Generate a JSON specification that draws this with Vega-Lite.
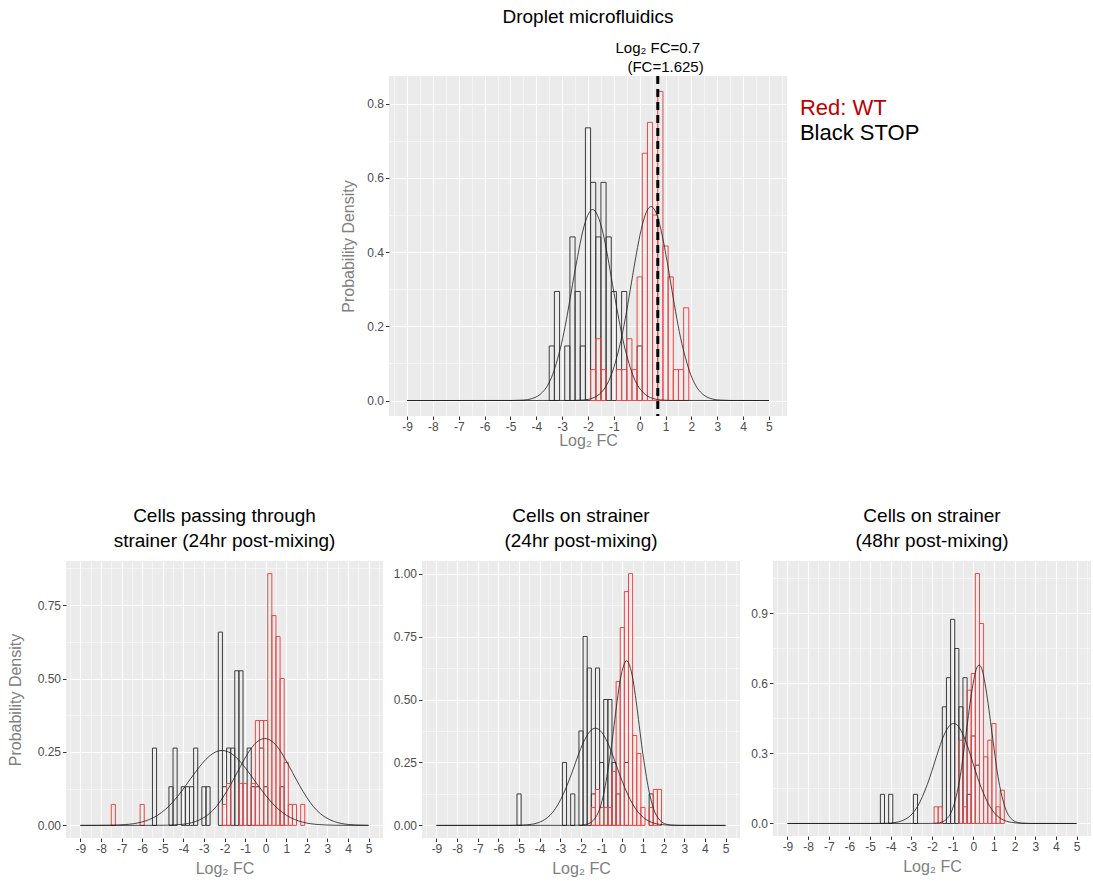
{
  "$schema": "https://vega.github.io/schema/vega-lite/v6.json",
  "background": "white",
  "padding": {"left": 7, "top": 8, "right": 0, "bottom": 0},
  "config": {
    "font": "Liberation Sans",
    "view": {"fill": "#ebebeb", "stroke": null},
    "axis": {"domain": false, "tickColor": "#333333", "tickSize": 3.5, "tickWidth": 1, "labelColor": "#4d4d4d", "labelFontSize": 12, "labelPadding": 2, "titleColor": "#808080", "titleFontSize": 16, "titleFontWeight": "normal", "gridColor": "#ffffff", "labelOverlap": false, "labelFlush": false},
    "title": {"fontSize": 19, "fontWeight": "normal", "color": "black"}
  },
  "datasets": {
    "bars": [
      {"p":"T","g":"S","x0":-3.5,"x1":-3.3,"d":0.1471},{"p":"T","g":"S","x0":-3.3,"x1":-3.1,"d":0.2941},{"p":"T","g":"S","x0":-2.9,"x1":-2.7,"d":0.1471},{"p":"T","g":"S","x0":-2.7,"x1":-2.5,"d":0.4412},{"p":"T","g":"S","x0":-2.5,"x1":-2.3,"d":0.2941},{"p":"T","g":"S","x0":-2.3,"x1":-2.1,"d":0.1471},{"p":"T","g":"S","x0":-2.1,"x1":-1.9,"d":0.7353},{"p":"T","g":"S","x0":-1.9,"x1":-1.7,"d":0.5882},{"p":"T","g":"S","x0":-1.7,"x1":-1.5,"d":0.4412},{"p":"T","g":"S","x0":-1.5,"x1":-1.3,"d":0.5882},{"p":"T","g":"S","x0":-1.3,"x1":-1.1,"d":0.4412},{"p":"T","g":"S","x0":-1.1,"x1":-0.9,"d":0.2941},{"p":"T","g":"S","x0":-0.7,"x1":-0.5,"d":0.2941},{"p":"T","g":"S","x0":-0.1,"x1":0.1,"d":0.1471},
      {"p":"T","g":"W","x0":-1.9,"x1":-1.7,"d":0.0833},{"p":"T","g":"W","x0":-1.7,"x1":-1.5,"d":0.1667},{"p":"T","g":"W","x0":-1.5,"x1":-1.3,"d":0.0833},{"p":"T","g":"W","x0":-0.9,"x1":-0.7,"d":0.0833},{"p":"T","g":"W","x0":-0.7,"x1":-0.5,"d":0.0833},{"p":"T","g":"W","x0":-0.5,"x1":-0.3,"d":0.1667},{"p":"T","g":"W","x0":-0.3,"x1":-0.1,"d":0.0833},{"p":"T","g":"W","x0":-0.1,"x1":0.1,"d":0.3333},{"p":"T","g":"W","x0":0.1,"x1":0.3,"d":0.6667},{"p":"T","g":"W","x0":0.3,"x1":0.5,"d":0.75},{"p":"T","g":"W","x0":0.5,"x1":0.7,"d":0.5},{"p":"T","g":"W","x0":0.7,"x1":0.9,"d":0.8333},{"p":"T","g":"W","x0":0.9,"x1":1.1,"d":0.4167},{"p":"T","g":"W","x0":1.1,"x1":1.3,"d":0.3333},{"p":"T","g":"W","x0":1.3,"x1":1.5,"d":0.0833},{"p":"T","g":"W","x0":1.5,"x1":1.7,"d":0.0833},{"p":"T","g":"W","x0":1.7,"x1":1.9,"d":0.25},
      {"p":"A","g":"S","x0":-5.5,"x1":-5.3,"d":0.2632},{"p":"A","g":"S","x0":-4.7,"x1":-4.5,"d":0.1316},{"p":"A","g":"S","x0":-4.5,"x1":-4.3,"d":0.2632},{"p":"A","g":"S","x0":-4.1,"x1":-3.9,"d":0.1316},{"p":"A","g":"S","x0":-3.9,"x1":-3.7,"d":0.1316},{"p":"A","g":"S","x0":-3.7,"x1":-3.5,"d":0.1316},{"p":"A","g":"S","x0":-3.5,"x1":-3.3,"d":0.2632},{"p":"A","g":"S","x0":-3.1,"x1":-2.9,"d":0.1316},{"p":"A","g":"S","x0":-2.9,"x1":-2.7,"d":0.1316},{"p":"A","g":"S","x0":-2.3,"x1":-2.1,"d":0.6579},{"p":"A","g":"S","x0":-2.1,"x1":-1.9,"d":0.1316},{"p":"A","g":"S","x0":-1.9,"x1":-1.7,"d":0.2632},{"p":"A","g":"S","x0":-1.7,"x1":-1.5,"d":0.2632},{"p":"A","g":"S","x0":-1.5,"x1":-1.3,"d":0.5263},{"p":"A","g":"S","x0":-1.3,"x1":-1.1,"d":0.5263},{"p":"A","g":"S","x0":-0.9,"x1":-0.7,"d":0.2632},{"p":"A","g":"S","x0":-0.7,"x1":-0.5,"d":0.1316},{"p":"A","g":"S","x0":-0.5,"x1":-0.3,"d":0.1316},{"p":"A","g":"S","x0":-0.3,"x1":-0.1,"d":0.2632},{"p":"A","g":"S","x0":-0.1,"x1":0.1,"d":0.1316},{"p":"A","g":"S","x0":0.7,"x1":0.9,"d":0.1316},
      {"p":"A","g":"W","x0":-7.5,"x1":-7.3,"d":0.0714},{"p":"A","g":"W","x0":-6.1,"x1":-5.9,"d":0.0714},{"p":"A","g":"W","x0":-2.1,"x1":-1.9,"d":0.0714},{"p":"A","g":"W","x0":-1.9,"x1":-1.7,"d":0.1429},{"p":"A","g":"W","x0":-1.3,"x1":-1.1,"d":0.1429},{"p":"A","g":"W","x0":-1.1,"x1":-0.9,"d":0.1429},{"p":"A","g":"W","x0":-0.7,"x1":-0.5,"d":0.1429},{"p":"A","g":"W","x0":-0.5,"x1":-0.3,"d":0.3571},{"p":"A","g":"W","x0":-0.3,"x1":-0.1,"d":0.3571},{"p":"A","g":"W","x0":-0.1,"x1":0.1,"d":0.3571},{"p":"A","g":"W","x0":0.1,"x1":0.3,"d":0.8571},{"p":"A","g":"W","x0":0.3,"x1":0.5,"d":0.7143},{"p":"A","g":"W","x0":0.5,"x1":0.7,"d":0.6429},{"p":"A","g":"W","x0":0.7,"x1":0.9,"d":0.5},{"p":"A","g":"W","x0":0.9,"x1":1.1,"d":0.2143},{"p":"A","g":"W","x0":1.1,"x1":1.3,"d":0.0714},{"p":"A","g":"W","x0":1.3,"x1":1.5,"d":0.0714},{"p":"A","g":"W","x0":1.7,"x1":1.9,"d":0.0714},
      {"p":"B","g":"S","x0":-5.1,"x1":-4.9,"d":0.125},{"p":"B","g":"S","x0":-2.9,"x1":-2.7,"d":0.25},{"p":"B","g":"S","x0":-2.5,"x1":-2.3,"d":0.125},{"p":"B","g":"S","x0":-2.1,"x1":-1.9,"d":0.375},{"p":"B","g":"S","x0":-1.9,"x1":-1.7,"d":0.75},{"p":"B","g":"S","x0":-1.7,"x1":-1.5,"d":0.625},{"p":"B","g":"S","x0":-1.5,"x1":-1.3,"d":0.125},{"p":"B","g":"S","x0":-1.3,"x1":-1.1,"d":0.625},{"p":"B","g":"S","x0":-1.1,"x1":-0.9,"d":0.25},{"p":"B","g":"S","x0":-0.9,"x1":-0.7,"d":0.5},{"p":"B","g":"S","x0":-0.7,"x1":-0.5,"d":0.5},{"p":"B","g":"S","x0":-0.5,"x1":-0.3,"d":0.25},{"p":"B","g":"S","x0":-0.3,"x1":-0.1,"d":0.125},{"p":"B","g":"S","x0":0.1,"x1":0.3,"d":0.25},{"p":"B","g":"S","x0":1.3,"x1":1.5,"d":0.125},
      {"p":"B","g":"W","x0":-1.5,"x1":-1.3,"d":0.0714},{"p":"B","g":"W","x0":-1.3,"x1":-1.1,"d":0.1429},{"p":"B","g":"W","x0":-1.1,"x1":-0.9,"d":0.0714},{"p":"B","g":"W","x0":-0.9,"x1":-0.7,"d":0.0714},{"p":"B","g":"W","x0":-0.7,"x1":-0.5,"d":0.0714},{"p":"B","g":"W","x0":-0.5,"x1":-0.3,"d":0.2143},{"p":"B","g":"W","x0":-0.3,"x1":-0.1,"d":0.5714},{"p":"B","g":"W","x0":-0.1,"x1":0.1,"d":0.7857},{"p":"B","g":"W","x0":0.1,"x1":0.3,"d":0.9286},{"p":"B","g":"W","x0":0.3,"x1":0.5,"d":1.0},{"p":"B","g":"W","x0":0.5,"x1":0.7,"d":0.3571},{"p":"B","g":"W","x0":0.7,"x1":0.9,"d":0.2857},{"p":"B","g":"W","x0":0.9,"x1":1.1,"d":0.0714},{"p":"B","g":"W","x0":1.3,"x1":1.5,"d":0.0714},{"p":"B","g":"W","x0":1.5,"x1":1.7,"d":0.1429},{"p":"B","g":"W","x0":1.7,"x1":1.9,"d":0.1429},
      {"p":"C","g":"S","x0":-4.5,"x1":-4.3,"d":0.125},{"p":"C","g":"S","x0":-4.1,"x1":-3.9,"d":0.125},{"p":"C","g":"S","x0":-2.9,"x1":-2.7,"d":0.125},{"p":"C","g":"S","x0":-1.5,"x1":-1.3,"d":0.5},{"p":"C","g":"S","x0":-1.3,"x1":-1.1,"d":0.625},{"p":"C","g":"S","x0":-1.1,"x1":-0.9,"d":0.875},{"p":"C","g":"S","x0":-0.9,"x1":-0.7,"d":0.75},{"p":"C","g":"S","x0":-0.7,"x1":-0.5,"d":0.5},{"p":"C","g":"S","x0":-0.5,"x1":-0.3,"d":0.625},{"p":"C","g":"S","x0":-0.3,"x1":-0.1,"d":0.125},{"p":"C","g":"S","x0":-0.1,"x1":0.1,"d":0.375},{"p":"C","g":"S","x0":0.1,"x1":0.3,"d":0.25},
      {"p":"C","g":"W","x0":-1.9,"x1":-1.7,"d":0.0714},{"p":"C","g":"W","x0":-1.7,"x1":-1.5,"d":0.0714},{"p":"C","g":"W","x0":-0.7,"x1":-0.5,"d":0.3571},{"p":"C","g":"W","x0":-0.5,"x1":-0.3,"d":0.0714},{"p":"C","g":"W","x0":-0.3,"x1":-0.1,"d":0.5714},{"p":"C","g":"W","x0":-0.1,"x1":0.1,"d":0.6429},{"p":"C","g":"W","x0":0.1,"x1":0.3,"d":1.0714},{"p":"C","g":"W","x0":0.3,"x1":0.5,"d":0.8571},{"p":"C","g":"W","x0":0.5,"x1":0.7,"d":0.2857},{"p":"C","g":"W","x0":0.7,"x1":0.9,"d":0.3571},{"p":"C","g":"W","x0":0.9,"x1":1.1,"d":0.4286},{"p":"C","g":"W","x0":1.1,"x1":1.3,"d":0.0714},{"p":"C","g":"W","x0":1.3,"x1":1.5,"d":0.1429}
    ],
    "curves": [
      {"p":"T","g":"S","x":-9,"y":0},{"p":"T","g":"S","x":-4.92,"y":0.0002},{"p":"T","g":"S","x":-4.53,"y":0.0011},{"p":"T","g":"S","x":-4.15,"y":0.0057},{"p":"T","g":"S","x":-3.95,"y":0.0117},{"p":"T","g":"S","x":-3.76,"y":0.0226},{"p":"T","g":"S","x":-3.56,"y":0.041},{"p":"T","g":"S","x":-3.37,"y":0.0697},{"p":"T","g":"S","x":-3.18,"y":0.1114},{"p":"T","g":"S","x":-2.98,"y":0.1672},{"p":"T","g":"S","x":-2.79,"y":0.2358},{"p":"T","g":"S","x":-2.6,"y":0.3123},{"p":"T","g":"S","x":-2.4,"y":0.3887},{"p":"T","g":"S","x":-2.21,"y":0.4545},{"p":"T","g":"S","x":-2.01,"y":0.4991},{"p":"T","g":"S","x":-1.82,"y":0.515},{"p":"T","g":"S","x":-1.63,"y":0.4991},{"p":"T","g":"S","x":-1.43,"y":0.4545},{"p":"T","g":"S","x":-1.24,"y":0.3887},{"p":"T","g":"S","x":-1.05,"y":0.3123},{"p":"T","g":"S","x":-0.85,"y":0.2358},{"p":"T","g":"S","x":-0.66,"y":0.1672},{"p":"T","g":"S","x":-0.46,"y":0.1114},{"p":"T","g":"S","x":-0.27,"y":0.0697},{"p":"T","g":"S","x":-0.08,"y":0.041},{"p":"T","g":"S","x":0.12,"y":0.0226},{"p":"T","g":"S","x":0.31,"y":0.0117},{"p":"T","g":"S","x":0.51,"y":0.0057},{"p":"T","g":"S","x":0.89,"y":0.0011},{"p":"T","g":"S","x":1.28,"y":0.0002},{"p":"T","g":"S","x":5,"y":0},
      {"p":"T","g":"W","x":-9,"y":0},{"p":"T","g":"W","x":-2.61,"y":0.0002},{"p":"T","g":"W","x":-2.23,"y":0.0012},{"p":"T","g":"W","x":-1.85,"y":0.0058},{"p":"T","g":"W","x":-1.66,"y":0.0119},{"p":"T","g":"W","x":-1.47,"y":0.023},{"p":"T","g":"W","x":-1.28,"y":0.0416},{"p":"T","g":"W","x":-1.09,"y":0.0708},{"p":"T","g":"W","x":-0.9,"y":0.1131},{"p":"T","g":"W","x":-0.7,"y":0.1698},{"p":"T","g":"W","x":-0.51,"y":0.2394},{"p":"T","g":"W","x":-0.32,"y":0.3172},{"p":"T","g":"W","x":-0.13,"y":0.3948},{"p":"T","g":"W","x":0.06,"y":0.4615},{"p":"T","g":"W","x":0.25,"y":0.5069},{"p":"T","g":"W","x":0.44,"y":0.523},{"p":"T","g":"W","x":0.63,"y":0.5069},{"p":"T","g":"W","x":0.82,"y":0.4615},{"p":"T","g":"W","x":1.01,"y":0.3948},{"p":"T","g":"W","x":1.2,"y":0.3172},{"p":"T","g":"W","x":1.39,"y":0.2394},{"p":"T","g":"W","x":1.58,"y":0.1698},{"p":"T","g":"W","x":1.78,"y":0.1131},{"p":"T","g":"W","x":1.97,"y":0.0708},{"p":"T","g":"W","x":2.16,"y":0.0416},{"p":"T","g":"W","x":2.35,"y":0.023},{"p":"T","g":"W","x":2.54,"y":0.0119},{"p":"T","g":"W","x":2.73,"y":0.0058},{"p":"T","g":"W","x":3.11,"y":0.0012},{"p":"T","g":"W","x":3.49,"y":0.0002},{"p":"T","g":"W","x":5,"y":0},
      {"p":"A","g":"S","x":-9,"y":0},{"p":"A","g":"S","x":-8.38,"y":0.0001},{"p":"A","g":"S","x":-7.6,"y":0.0006},{"p":"A","g":"S","x":-6.82,"y":0.0028},{"p":"A","g":"S","x":-6.42,"y":0.0058},{"p":"A","g":"S","x":-6.03,"y":0.0112},{"p":"A","g":"S","x":-5.64,"y":0.0203},{"p":"A","g":"S","x":-5.25,"y":0.0345},{"p":"A","g":"S","x":-4.86,"y":0.0552},{"p":"A","g":"S","x":-4.47,"y":0.0828},{"p":"A","g":"S","x":-4.08,"y":0.1167},{"p":"A","g":"S","x":-3.69,"y":0.1547},{"p":"A","g":"S","x":-3.29,"y":0.1925},{"p":"A","g":"S","x":-2.9,"y":0.225},{"p":"A","g":"S","x":-2.51,"y":0.2471},{"p":"A","g":"S","x":-2.12,"y":0.255},{"p":"A","g":"S","x":-1.73,"y":0.2471},{"p":"A","g":"S","x":-1.34,"y":0.225},{"p":"A","g":"S","x":-0.95,"y":0.1925},{"p":"A","g":"S","x":-0.56,"y":0.1547},{"p":"A","g":"S","x":-0.16,"y":0.1167},{"p":"A","g":"S","x":0.23,"y":0.0828},{"p":"A","g":"S","x":0.62,"y":0.0552},{"p":"A","g":"S","x":1.01,"y":0.0345},{"p":"A","g":"S","x":1.4,"y":0.0203},{"p":"A","g":"S","x":1.79,"y":0.0112},{"p":"A","g":"S","x":2.18,"y":0.0058},{"p":"A","g":"S","x":2.58,"y":0.0028},{"p":"A","g":"S","x":3.36,"y":0.0006},{"p":"A","g":"S","x":4.14,"y":0.0001},{"p":"A","g":"S","x":5,"y":0},
      {"p":"A","g":"W","x":-9,"y":0},{"p":"A","g":"W","x":-5.44,"y":0.0001},{"p":"A","g":"W","x":-4.77,"y":0.0007},{"p":"A","g":"W","x":-4.09,"y":0.0033},{"p":"A","g":"W","x":-3.75,"y":0.0067},{"p":"A","g":"W","x":-3.42,"y":0.013},{"p":"A","g":"W","x":-3.08,"y":0.0235},{"p":"A","g":"W","x":-2.74,"y":0.04},{"p":"A","g":"W","x":-2.4,"y":0.0639},{"p":"A","g":"W","x":-2.07,"y":0.096},{"p":"A","g":"W","x":-1.73,"y":0.1353},{"p":"A","g":"W","x":-1.39,"y":0.1793},{"p":"A","g":"W","x":-1.05,"y":0.2231},{"p":"A","g":"W","x":-0.72,"y":0.2609},{"p":"A","g":"W","x":-0.38,"y":0.2865},{"p":"A","g":"W","x":-0.04,"y":0.2956},{"p":"A","g":"W","x":0.3,"y":0.2865},{"p":"A","g":"W","x":0.64,"y":0.2609},{"p":"A","g":"W","x":0.97,"y":0.2231},{"p":"A","g":"W","x":1.31,"y":0.1793},{"p":"A","g":"W","x":1.65,"y":0.1353},{"p":"A","g":"W","x":1.99,"y":0.096},{"p":"A","g":"W","x":2.32,"y":0.0639},{"p":"A","g":"W","x":2.66,"y":0.04},{"p":"A","g":"W","x":3.0,"y":0.0235},{"p":"A","g":"W","x":3.34,"y":0.013},{"p":"A","g":"W","x":3.67,"y":0.0067},{"p":"A","g":"W","x":4.01,"y":0.0033},{"p":"A","g":"W","x":4.69,"y":0.0007},{"p":"A","g":"W","x":5,"y":0.0003},
      {"p":"B","g":"S","x":-9,"y":0},{"p":"B","g":"S","x":-5.44,"y":0.0001},{"p":"B","g":"S","x":-4.92,"y":0.0009},{"p":"B","g":"S","x":-4.4,"y":0.0043},{"p":"B","g":"S","x":-4.14,"y":0.0088},{"p":"B","g":"S","x":-3.89,"y":0.0169},{"p":"B","g":"S","x":-3.63,"y":0.0307},{"p":"B","g":"S","x":-3.37,"y":0.0522},{"p":"B","g":"S","x":-3.11,"y":0.0835},{"p":"B","g":"S","x":-2.85,"y":0.1253},{"p":"B","g":"S","x":-2.59,"y":0.1767},{"p":"B","g":"S","x":-2.33,"y":0.2341},{"p":"B","g":"S","x":-2.08,"y":0.2914},{"p":"B","g":"S","x":-1.82,"y":0.3406},{"p":"B","g":"S","x":-1.56,"y":0.3741},{"p":"B","g":"S","x":-1.3,"y":0.386},{"p":"B","g":"S","x":-1.04,"y":0.3741},{"p":"B","g":"S","x":-0.78,"y":0.3406},{"p":"B","g":"S","x":-0.52,"y":0.2914},{"p":"B","g":"S","x":-0.27,"y":0.2341},{"p":"B","g":"S","x":-0.01,"y":0.1767},{"p":"B","g":"S","x":0.25,"y":0.1253},{"p":"B","g":"S","x":0.51,"y":0.0835},{"p":"B","g":"S","x":0.77,"y":0.0522},{"p":"B","g":"S","x":1.03,"y":0.0307},{"p":"B","g":"S","x":1.29,"y":0.0169},{"p":"B","g":"S","x":1.54,"y":0.0088},{"p":"B","g":"S","x":1.8,"y":0.0043},{"p":"B","g":"S","x":2.32,"y":0.0009},{"p":"B","g":"S","x":2.84,"y":0.0001},{"p":"B","g":"S","x":5,"y":0},
      {"p":"B","g":"W","x":-9,"y":0},{"p":"B","g":"W","x":-2.23,"y":0.0002},{"p":"B","g":"W","x":-1.93,"y":0.0014},{"p":"B","g":"W","x":-1.62,"y":0.0073},{"p":"B","g":"W","x":-1.47,"y":0.0149},{"p":"B","g":"W","x":-1.32,"y":0.0287},{"p":"B","g":"W","x":-1.16,"y":0.0521},{"p":"B","g":"W","x":-1.01,"y":0.0885},{"p":"B","g":"W","x":-0.86,"y":0.1415},{"p":"B","g":"W","x":-0.71,"y":0.2124},{"p":"B","g":"W","x":-0.55,"y":0.2994},{"p":"B","g":"W","x":-0.4,"y":0.3967},{"p":"B","g":"W","x":-0.25,"y":0.4936},{"p":"B","g":"W","x":-0.1,"y":0.5772},{"p":"B","g":"W","x":0.06,"y":0.6339},{"p":"B","g":"W","x":0.21,"y":0.654},{"p":"B","g":"W","x":0.36,"y":0.6339},{"p":"B","g":"W","x":0.52,"y":0.5772},{"p":"B","g":"W","x":0.67,"y":0.4936},{"p":"B","g":"W","x":0.82,"y":0.3967},{"p":"B","g":"W","x":0.97,"y":0.2994},{"p":"B","g":"W","x":1.13,"y":0.2124},{"p":"B","g":"W","x":1.28,"y":0.1415},{"p":"B","g":"W","x":1.43,"y":0.0885},{"p":"B","g":"W","x":1.58,"y":0.0521},{"p":"B","g":"W","x":1.74,"y":0.0287},{"p":"B","g":"W","x":1.89,"y":0.0149},{"p":"B","g":"W","x":2.04,"y":0.0073},{"p":"B","g":"W","x":2.35,"y":0.0014},{"p":"B","g":"W","x":2.65,"y":0.0002},{"p":"B","g":"W","x":5,"y":0},
      {"p":"C","g":"S","x":-9,"y":0},{"p":"C","g":"S","x":-4.67,"y":0.0002},{"p":"C","g":"S","x":-4.21,"y":0.0009},{"p":"C","g":"S","x":-3.74,"y":0.0048},{"p":"C","g":"S","x":-3.51,"y":0.0098},{"p":"C","g":"S","x":-3.28,"y":0.0188},{"p":"C","g":"S","x":-3.04,"y":0.0341},{"p":"C","g":"S","x":-2.81,"y":0.058},{"p":"C","g":"S","x":-2.58,"y":0.0928},{"p":"C","g":"S","x":-2.35,"y":0.1393},{"p":"C","g":"S","x":-2.11,"y":0.1964},{"p":"C","g":"S","x":-1.88,"y":0.2602},{"p":"C","g":"S","x":-1.65,"y":0.3238},{"p":"C","g":"S","x":-1.42,"y":0.3786},{"p":"C","g":"S","x":-1.18,"y":0.4158},{"p":"C","g":"S","x":-0.95,"y":0.429},{"p":"C","g":"S","x":-0.72,"y":0.4158},{"p":"C","g":"S","x":-0.49,"y":0.3786},{"p":"C","g":"S","x":-0.25,"y":0.3238},{"p":"C","g":"S","x":-0.02,"y":0.2602},{"p":"C","g":"S","x":0.21,"y":0.1964},{"p":"C","g":"S","x":0.45,"y":0.1393},{"p":"C","g":"S","x":0.68,"y":0.0928},{"p":"C","g":"S","x":0.91,"y":0.058},{"p":"C","g":"S","x":1.14,"y":0.0341},{"p":"C","g":"S","x":1.38,"y":0.0188},{"p":"C","g":"S","x":1.61,"y":0.0098},{"p":"C","g":"S","x":1.84,"y":0.0048},{"p":"C","g":"S","x":2.31,"y":0.0009},{"p":"C","g":"S","x":2.77,"y":0.0002},{"p":"C","g":"S","x":5,"y":0},
      {"p":"C","g":"W","x":-9,"y":0},{"p":"C","g":"W","x":-2.07,"y":0.0002},{"p":"C","g":"W","x":-1.78,"y":0.0015},{"p":"C","g":"W","x":-1.48,"y":0.0075},{"p":"C","g":"W","x":-1.34,"y":0.0155},{"p":"C","g":"W","x":-1.19,"y":0.0298},{"p":"C","g":"W","x":-1.04,"y":0.054},{"p":"C","g":"W","x":-0.9,"y":0.0919},{"p":"C","g":"W","x":-0.75,"y":0.1469},{"p":"C","g":"W","x":-0.6,"y":0.2205},{"p":"C","g":"W","x":-0.46,"y":0.3108},{"p":"C","g":"W","x":-0.31,"y":0.4118},{"p":"C","g":"W","x":-0.16,"y":0.5125},{"p":"C","g":"W","x":-0.01,"y":0.5992},{"p":"C","g":"W","x":0.13,"y":0.6581},{"p":"C","g":"W","x":0.28,"y":0.679},{"p":"C","g":"W","x":0.43,"y":0.6581},{"p":"C","g":"W","x":0.57,"y":0.5992},{"p":"C","g":"W","x":0.72,"y":0.5125},{"p":"C","g":"W","x":0.87,"y":0.4118},{"p":"C","g":"W","x":1.02,"y":0.3108},{"p":"C","g":"W","x":1.16,"y":0.2205},{"p":"C","g":"W","x":1.31,"y":0.1469},{"p":"C","g":"W","x":1.46,"y":0.0919},{"p":"C","g":"W","x":1.6,"y":0.054},{"p":"C","g":"W","x":1.75,"y":0.0298},{"p":"C","g":"W","x":1.9,"y":0.0155},{"p":"C","g":"W","x":2.04,"y":0.0075},{"p":"C","g":"W","x":2.34,"y":0.0015},{"p":"C","g":"W","x":2.63,"y":0.0002},{"p":"C","g":"W","x":5,"y":0}
    ]
  },
  "spacing": 58,
  "vconcat": [
    {
      "spacing": 0,
      "hconcat": [
        {"width": 274, "height": 10, "view": {"fill": null, "stroke": null}, "data": {"values": []}, "mark": "point"},
        {
          "width": 398, "height": 340,
          "title": {"text": "Droplet microfluidics", "offset": 14},
          "layer": [
            {
              "data": {"name": "bars"}, "transform": [{"filter": "datum.p == 'T'"}],
              "mark": {"type": "bar", "fill": "transparent", "strokeWidth": 1},
              "encoding": {
                "x": {"field": "x0", "type": "quantitative", "scale": {"domain": [-9.7, 5.7], "nice": false, "zero": false},
                  "axis": {"title": "Log₂ FC", "titlePadding": 0, "tickCount": 100, "labelOverlap": false, "values": [-9.5,-9,-8.5,-8,-7.5,-7,-6.5,-6,-5.5,-5,-4.5,-4,-3.5,-3,-2.5,-2,-1.5,-1,-0.5,0,0.5,1,1.5,2,2.5,3,3.5,4,4.5,5,5.5],
                    "labelExpr": "datum.value % 1 == 0 ? '' + datum.value : ''",
                    "gridWidth": {"condition": {"test": "datum.value % 1 != 0", "value": 0.5}, "value": 1.1},
                    "tickOpacity": {"condition": {"test": "datum.value % 1 != 0", "value": 0}, "value": 1}}},
                "x2": {"field": "x1"},
                "y": {"field": "d", "type": "quantitative", "scale": {"domain": [-0.0417, 0.875], "nice": false, "zero": false},
                  "axis": {"title": "Probability Density", "titlePadding": 10, "tickCount": 100, "labelOverlap": false, "values": [0,0.1,0.2,0.3,0.4,0.5,0.6,0.7,0.8],
                    "labelExpr": "round(datum.value*10) % 2 == 0 ? format(datum.value, '.1f') : ''",
                    "gridWidth": {"condition": {"test": "round(datum.value*10) % 2 != 0", "value": 0.5}, "value": 1.1},
                    "tickOpacity": {"condition": {"test": "round(datum.value*10) % 2 != 0", "value": 0}, "value": 1}}},
                "y2": {"datum": 0},
                "stroke": {"field": "g", "type": "nominal", "scale": {"domain": ["S", "W"], "range": ["#3d3d3d", "#ef4646"]}, "legend": null}
              }
            },
            {
              "data": {"name": "curves"}, "transform": [{"filter": "datum.p == 'T'"}],
              "mark": {"type": "line", "stroke": "#1a1a1a", "strokeWidth": 0.8, "interpolate": "monotone"},
              "encoding": {"x": {"field": "x", "type": "quantitative"}, "y": {"field": "y", "type": "quantitative"}, "detail": {"field": "g"}}
            },
            {
              "data": {"values": [{}]},
              "mark": {"type": "rule", "stroke": "black", "strokeWidth": 3, "strokeDash": [8, 5]},
              "encoding": {"x": {"datum": 0.7}}
            },
            {
              "data": {"values": [{}]},
              "mark": {"type": "text", "fontSize": 15, "color": "black", "baseline": "middle"},
              "encoding": {"x": {"datum": 0.7}, "y": {"datum": 0.95}, "text": {"value": "Log₂ FC=0.7"}}
            },
            {
              "data": {"values": [{}]},
              "mark": {"type": "text", "fontSize": 15, "color": "black", "baseline": "middle"},
              "encoding": {"x": {"datum": 1.0}, "y": {"datum": 0.898}, "text": {"value": "(FC=1.625)"}}
            },
            {
              "data": {"values": [{}]},
              "mark": {"type": "text", "fontSize": 22, "color": "#c00000", "align": "left", "baseline": "middle"},
              "encoding": {"x": {"datum": 6.2}, "y": {"datum": 0.79}, "text": {"value": "Red: WT"}}
            },
            {
              "data": {"values": [{}]},
              "mark": {"type": "text", "fontSize": 22, "color": "black", "align": "left", "baseline": "middle"},
              "encoding": {"x": {"datum": 6.2}, "y": {"datum": 0.722}, "text": {"value": "Black STOP"}}
            }
          ]
        }
      ]
    },
    {
      "spacing": 10,
      "hconcat": [
        {
          "width": 317, "height": 277,
          "title": {"text": ["Cells passing through", "strainer (24hr post-mixing)"], "offset": 10, "lineHeight": 25},
          "layer": [
            {
              "data": {"name": "bars"}, "transform": [{"filter": "datum.p == 'A'"}],
              "mark": {"type": "bar", "fill": "transparent", "strokeWidth": 1},
              "encoding": {
                "x": {"field": "x0", "type": "quantitative", "scale": {"domain": [-9.7, 5.7], "nice": false, "zero": false},
                  "axis": {"title": "Log₂ FC", "titlePadding": 6, "tickCount": 100, "labelOverlap": false, "values": [-9.5,-9,-8.5,-8,-7.5,-7,-6.5,-6,-5.5,-5,-4.5,-4,-3.5,-3,-2.5,-2,-1.5,-1,-0.5,0,0.5,1,1.5,2,2.5,3,3.5,4,4.5,5,5.5],
                    "labelExpr": "datum.value % 1 == 0 ? '' + datum.value : ''",
                    "gridWidth": {"condition": {"test": "datum.value % 1 != 0", "value": 0.5}, "value": 1.1},
                    "tickOpacity": {"condition": {"test": "datum.value % 1 != 0", "value": 0}, "value": 1}}},
                "x2": {"field": "x1"},
                "y": {"field": "d", "type": "quantitative", "scale": {"domain": [-0.0429, 0.9], "nice": false, "zero": false},
                  "axis": {"title": "Probability Density", "titlePadding": 14, "tickCount": 100, "labelOverlap": false, "values": [0,0.125,0.25,0.375,0.5,0.625,0.75,0.875],
                    "labelExpr": "round(datum.value*8) % 2 == 0 ? format(datum.value, '.2f') : ''",
                    "gridWidth": {"condition": {"test": "round(datum.value*8) % 2 != 0", "value": 0.5}, "value": 1.1},
                    "tickOpacity": {"condition": {"test": "round(datum.value*8) % 2 != 0", "value": 0}, "value": 1}}},
                "y2": {"datum": 0},
                "stroke": {"field": "g", "type": "nominal", "scale": {"domain": ["S", "W"], "range": ["#3d3d3d", "#ef4646"]}, "legend": null}
              }
            },
            {
              "data": {"name": "curves"}, "transform": [{"filter": "datum.p == 'A'"}],
              "mark": {"type": "line", "stroke": "#1a1a1a", "strokeWidth": 0.8, "interpolate": "monotone"},
              "encoding": {"x": {"field": "x", "type": "quantitative"}, "y": {"field": "y", "type": "quantitative"}, "detail": {"field": "g"}}
            }
          ]
        },
        {
          "width": 318, "height": 277,
          "title": {"text": ["Cells on strainer", "(24hr post-mixing)"], "offset": 10, "lineHeight": 25},
          "layer": [
            {
              "data": {"name": "bars"}, "transform": [{"filter": "datum.p == 'B'"}],
              "mark": {"type": "bar", "fill": "transparent", "strokeWidth": 1},
              "encoding": {
                "x": {"field": "x0", "type": "quantitative", "scale": {"domain": [-9.7, 5.7], "nice": false, "zero": false},
                  "axis": {"title": "Log₂ FC", "titlePadding": 6, "tickCount": 100, "labelOverlap": false, "values": [-9.5,-9,-8.5,-8,-7.5,-7,-6.5,-6,-5.5,-5,-4.5,-4,-3.5,-3,-2.5,-2,-1.5,-1,-0.5,0,0.5,1,1.5,2,2.5,3,3.5,4,4.5,5,5.5],
                    "labelExpr": "datum.value % 1 == 0 ? '' + datum.value : ''",
                    "gridWidth": {"condition": {"test": "datum.value % 1 != 0", "value": 0.5}, "value": 1.1},
                    "tickOpacity": {"condition": {"test": "datum.value % 1 != 0", "value": 0}, "value": 1}}},
                "x2": {"field": "x1"},
                "y": {"field": "d", "type": "quantitative", "scale": {"domain": [-0.05, 1.05], "nice": false, "zero": false},
                  "axis": {"title": null, "tickCount": 100, "labelOverlap": false, "values": [0,0.125,0.25,0.375,0.5,0.625,0.75,0.875,1.0],
                    "labelExpr": "round(datum.value*8) % 2 == 0 ? format(datum.value, '.2f') : ''",
                    "gridWidth": {"condition": {"test": "round(datum.value*8) % 2 != 0", "value": 0.5}, "value": 1.1},
                    "tickOpacity": {"condition": {"test": "round(datum.value*8) % 2 != 0", "value": 0}, "value": 1}}},
                "y2": {"datum": 0},
                "stroke": {"field": "g", "type": "nominal", "scale": {"domain": ["S", "W"], "range": ["#3d3d3d", "#ef4646"]}, "legend": null}
              }
            },
            {
              "data": {"name": "curves"}, "transform": [{"filter": "datum.p == 'B'"}],
              "mark": {"type": "line", "stroke": "#1a1a1a", "strokeWidth": 0.8, "interpolate": "monotone"},
              "encoding": {"x": {"field": "x", "type": "quantitative"}, "y": {"field": "y", "type": "quantitative"}, "detail": {"field": "g"}}
            }
          ]
        },
        {
          "width": 318, "height": 275,
          "title": {"text": ["Cells on strainer", "(48hr post-mixing)"], "offset": 10, "lineHeight": 25},
          "layer": [
            {
              "data": {"name": "bars"}, "transform": [{"filter": "datum.p == 'C'"}],
              "mark": {"type": "bar", "fill": "transparent", "strokeWidth": 1},
              "encoding": {
                "x": {"field": "x0", "type": "quantitative", "scale": {"domain": [-9.7, 5.7], "nice": false, "zero": false},
                  "axis": {"title": "Log₂ FC", "titlePadding": 6, "tickCount": 100, "labelOverlap": false, "values": [-9.5,-9,-8.5,-8,-7.5,-7,-6.5,-6,-5.5,-5,-4.5,-4,-3.5,-3,-2.5,-2,-1.5,-1,-0.5,0,0.5,1,1.5,2,2.5,3,3.5,4,4.5,5,5.5],
                    "labelExpr": "datum.value % 1 == 0 ? '' + datum.value : ''",
                    "gridWidth": {"condition": {"test": "datum.value % 1 != 0", "value": 0.5}, "value": 1.1},
                    "tickOpacity": {"condition": {"test": "datum.value % 1 != 0", "value": 0}, "value": 1}}},
                "x2": {"field": "x1"},
                "y": {"field": "d", "type": "quantitative", "scale": {"domain": [-0.0536, 1.125], "nice": false, "zero": false},
                  "axis": {"title": null, "tickCount": 100, "labelOverlap": false, "values": [0,0.15,0.3,0.45,0.6,0.75,0.9,1.05],
                    "labelExpr": "round(datum.value/0.15) % 2 == 0 ? format(datum.value, '.1f') : ''",
                    "gridWidth": {"condition": {"test": "round(datum.value/0.15) % 2 != 0", "value": 0.5}, "value": 1.1},
                    "tickOpacity": {"condition": {"test": "round(datum.value/0.15) % 2 != 0", "value": 0}, "value": 1}}},
                "y2": {"datum": 0},
                "stroke": {"field": "g", "type": "nominal", "scale": {"domain": ["S", "W"], "range": ["#3d3d3d", "#ef4646"]}, "legend": null}
              }
            },
            {
              "data": {"name": "curves"}, "transform": [{"filter": "datum.p == 'C'"}],
              "mark": {"type": "line", "stroke": "#1a1a1a", "strokeWidth": 0.8, "interpolate": "monotone"},
              "encoding": {"x": {"field": "x", "type": "quantitative"}, "y": {"field": "y", "type": "quantitative"}, "detail": {"field": "g"}}
            }
          ]
        }
      ]
    }
  ]
}
